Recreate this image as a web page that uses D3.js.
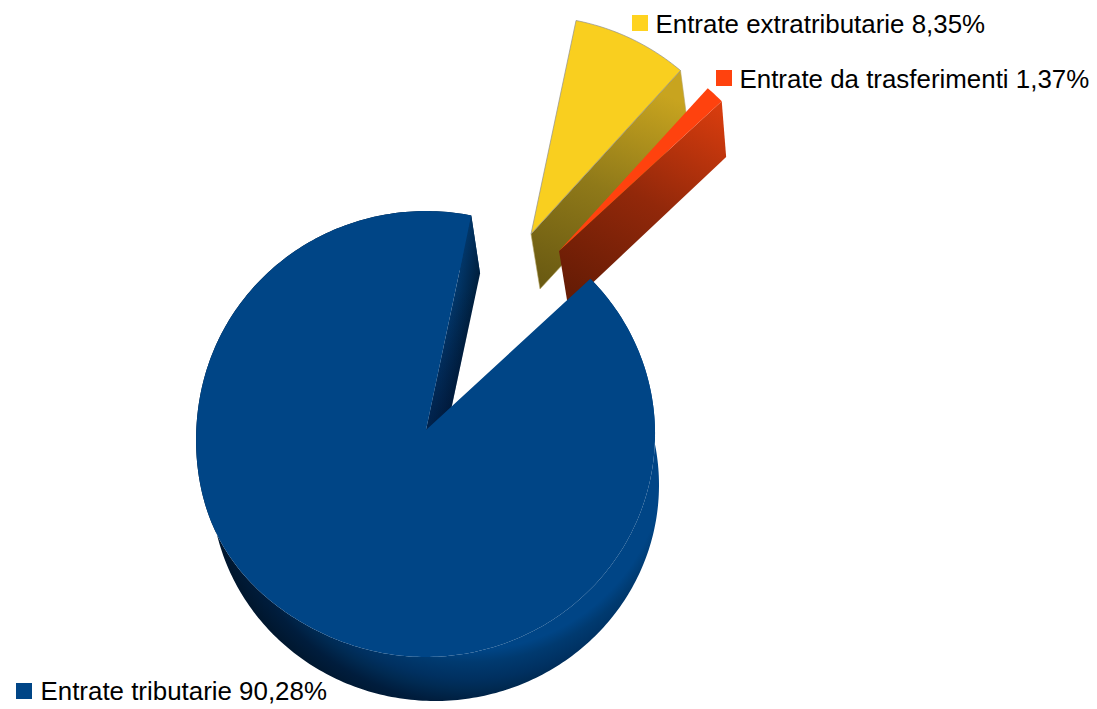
<!DOCTYPE html>
<html><head><meta charset="utf-8">
<style>html,body{margin:0;padding:0;background:#fff}svg{display:block}</style>
<script src="https://d3js.org/d3.v7.min.js"></script></head>
<body><svg id="c" width="1097" height="709"></svg>
<script>
const categories = ["Entrate tributarie", "Entrate extratributarie", "Entrate da trasferimenti"];
const values = [90.28, 8.35, 1.37];
const labels = ["90,28%", "8,35%", "1,37%"];
const colors = ["#004586", "#f9cf1f", "#ff420e"];

const W = 1097, H = 709;
const svg = d3.select("#c");
const defs = svg.append("defs");
const rad = d => d * Math.PI / 180;

// projection of the tilted disc: top and bottom faces
const topF = {cx: 426, cy: 430, rx: 229, ry: 222.9, k: 0.018};
const botF = {cx: 435, cy: 485, rx: 224, ry: 216, k: 0};
const slices = [
  {dx: 0, dy: 0, r: 1, bx: 0, by: 0},
  {dx: 105, dy: -196, r: 0.995, bx: 0, by: 0},
  {dx: 133, dy: -179, r: 0.99, bx: -3, by: -2}
];
const legendPos = [ {x: 16, y: 683, tx: 40.5, ty: 700}, {x: 632, y: 15, tx: 655.5, ty: 33}, {x: 716, y: 70, tx: 739.5, ty: 88} ];

const proj = (f, a, r, s) => {
  const isBot = f === botF;
  const rr = isBot ? r : r * (1 + 0.018 * Math.pow(Math.max(0, Math.cos(a - rad(240))), 12));
  const u = rr * Math.sin(a), v = rr * Math.cos(a), p = 1 + f.k * v;
  return [f.cx + s.dx + f.rx * u / p + (isBot ? s.bx * r : 0),
          f.cy + s.dy - f.ry * v / p + (isBot ? s.by * r : 0)];
};
const startDeg = 46.6;
const pie = d3.pie().sort(null).startAngle(rad(startDeg)).endAngle(rad(startDeg + 360));
const arcs = pie(values);
const line = d3.line();
const arcPts = (f, a0, a1, s) => {
  const n = Math.max(2, Math.ceil(Math.abs(a1 - a0) / rad(1)));
  return d3.range(n + 1).map(i => proj(f, a0 + (a1 - a0) * i / n, s.r, s));
};
const grad = (id, x1, y1, x2, y2, stops) => {
  const g = defs.append("linearGradient").attr("id", id).attr("gradientUnits", "userSpaceOnUse")
    .attr("x1", x1).attr("y1", y1).attr("x2", x2).attr("y2", y2);
  stops.forEach(s => {
    const st = g.append("stop").attr("offset", s[0]).attr("stop-color", s[1]);
    if (s[2] !== undefined) st.attr("stop-opacity", s[2]);
  });
};

// radial shading for the outer wall of the big slice
const rg = defs.append("radialGradient").attr("id", "wallB").attr("gradientUnits", "userSpaceOnUse")
  .attr("cx", 470).attr("cy", 455).attr("r", 300);
[[0.65, "#004586"], [0.69, "#003a70"], [0.747, "#003060"], [0.78, "#002a52"], [0.827, "#001d3d"], [0.883, "#00172f"], [1, "#00132a"]]
  .forEach(s => rg.append("stop").attr("offset", s[0]).attr("stop-color", s[1]));

grad("wallY", 640, 85, 560, 290, [[0, "#c8a41f"], [0.5, "#8f7919"], [1, "#6a5a12"]]);
grad("wallR", 700, 100, 590, 300, [[0, "#d63c0e"], [0.5, "#92280a"], [1, "#671c05"]]);
grad("wallI", 459, 258, 481, 262, [[0, "#023a70"], [1, "#00203f"]]);
grad("wallIo", 0, 290, 0, 420, [[0, "#001030", 0], [1, "#001030", 0.55]]);

const edge = "#8f8f8f";

// exploded slices (drawn back to front)
[1, 2].forEach(i => {
  const a = arcs[i], s = slices[i];
  const apex = proj(topF, 0, 0, s), apexB = proj(botF, 0, 0, s);
  const cTop = proj(topF, a.endAngle, s.r, s), cBot = proj(botF, a.endAngle, s.r, s);
  svg.append("path").attr("d", line([apex, cTop, cBot, apexB]) + "Z")
    .attr("fill", i === 1 ? "url(#wallY)" : "url(#wallR)")
    .attr("stroke", i === 1 ? "#b5a565" : "none").attr("stroke-width", 0.6);
  svg.append("path").attr("d", line([apex].concat(arcPts(topF, a.startAngle, a.endAngle, s))) + "Z")
    .attr("fill", colors[i]).attr("stroke", i === 1 ? edge : "none").attr("stroke-width", 0.7);
});

// big slice
const a0 = arcs[0], s0 = slices[0];
const wall = arcPts(topF, a0.startAngle, a0.endAngle, s0)
  .concat(arcPts(botF, a0.endAngle, a0.startAngle, s0));
svg.append("path").attr("d", line(wall) + "Z").attr("fill", "url(#wallB)");
const inner = [proj(topF, 0, 0, s0), proj(topF, a0.endAngle, 1, s0), proj(botF, a0.endAngle, 1, s0), proj(botF, 0, 0, s0)];
svg.append("path").attr("d", line(inner) + "Z").attr("fill", "url(#wallI)");
svg.append("path").attr("d", line(inner) + "Z").attr("fill", "url(#wallIo)");
svg.append("path")
  .attr("d", line([proj(topF, 0, 0, s0)].concat(arcPts(topF, a0.startAngle, a0.endAngle, s0))) + "Z")
  .attr("fill", colors[0]);

// legend
categories.forEach((c, i) => {
  const l = legendPos[i];
  svg.append("rect").attr("x", l.x).attr("y", l.y).attr("width", 16).attr("height", 16)
    .attr("fill", i === 1 ? "#ffd320" : colors[i]);
  svg.append("text").attr("x", l.tx).attr("y", l.ty)
    .attr("font-family", "'Liberation Sans', Arial, sans-serif").attr("font-size", 25.9)
    .attr("fill", "#000").text(c + " " + labels[i]);
});
</script></body></html>
